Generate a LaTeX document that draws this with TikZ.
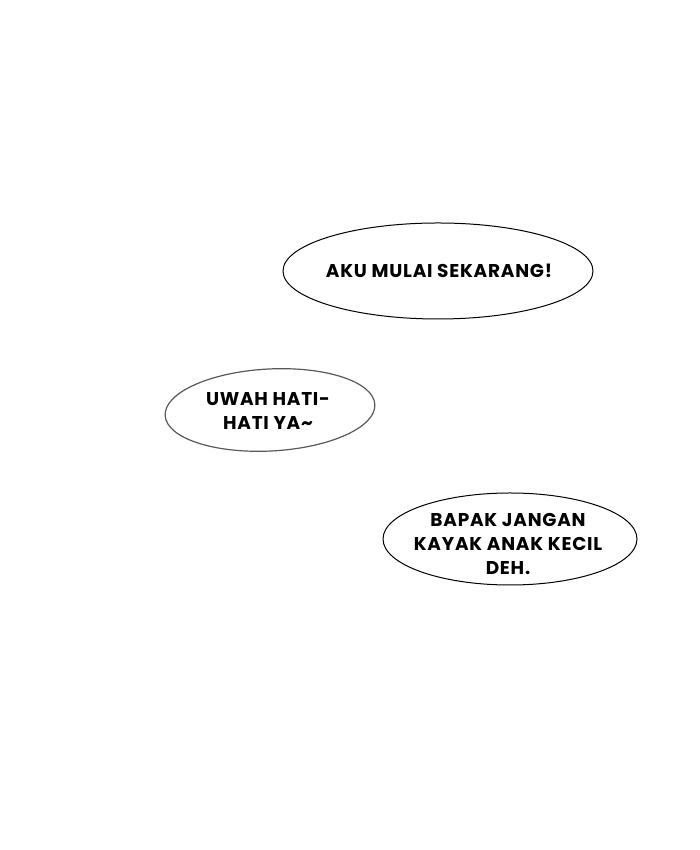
\documentclass[tikz,border=0pt]{standalone}
\usepackage{fontspec}
\setmainfont{Poppins}[LetterSpace=4]
\usetikzlibrary{shapes,positioning}

\begin{document}
\begin{tikzpicture}[
    x=1pt, y=1pt,
    bubble/.style={ellipse, draw, line width=1pt, fill=white, inner sep=0pt},
    talk/.style={font=\fontsize{18.5}{24}\selectfont\bfseries, align=center}
]

% page frame
\useasboundingbox (0,0) rectangle (700,850);
\fill[white] (0,0) rectangle (700,850);

% first bubble
\node[bubble, minimum width=310pt, minimum height=96pt] (start) at (438,579) {};
\node[talk] (starttext) at (439,579) {AKU MULAI SEKARANG!};

% second bubble, a bit tilted
\draw[line width=1.2pt, draw=black!65, fill=white, rotate around={3:(270,440)}] (270,440) ellipse (105 and 41);
\node[talk] (careful) at (268,439) {UWAH HATI-\\HATI YA\textasciitilde};

% third bubble
\node[bubble, minimum width=254pt, minimum height=92pt] (child) at (510,311) {};
\node[talk] (childtext) at (508,306) {BAPAK JANGAN\\KAYAK ANAK KECIL\\DEH.};

\end{tikzpicture}
\end{document}
